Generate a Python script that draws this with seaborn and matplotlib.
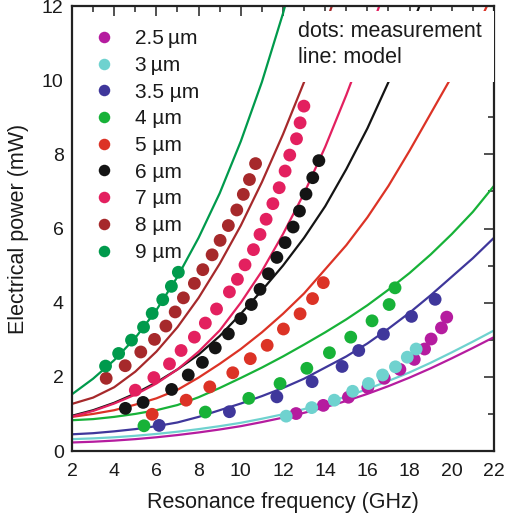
import numpy as np
import pandas as pd
import matplotlib
matplotlib.use("Agg")
import matplotlib.pyplot as plt
from matplotlib.patches import Rectangle
from matplotlib.ticker import MultipleLocator
import seaborn as sns

# ---- series labels and colours -------------------------------------------
labels = ["2.5\u2009µm", "3\u2009µm", "3.5 µm", "4 µm", "5 µm", "6 µm", "7 µm", "8 µm", "9 µm"]
dot_colors = ["#b51c9f", "#6fd2cf", "#3f379b", "#17b238", "#dc3326",
              "#141414", "#e3205f", "#a6292b", "#009a4c"]
line_colors = ["#b51c9f", "#6fd2cf", "#3f379b", "#17b238", "#dc3326",
               "#141414", "#e3205f", "#a6292b", "#009a4c"]

# ---- measured resonance frequency (GHz) and electrical power (mW) ---------
meas_f_25 = [12.62, 13.91, 15.10, 16.02, 16.80, 17.54, 18.22, 18.71, 19.02, 19.51, 19.76]
meas_p_25 = [1.01, 1.23, 1.45, 1.71, 1.96, 2.20, 2.47, 2.75, 3.02, 3.32, 3.61]

meas_f_3 = [12.15, 13.36, 14.43, 15.30, 16.05, 16.72, 17.33, 17.89, 18.31]
meas_p_3 = [0.94, 1.17, 1.37, 1.61, 1.82, 2.05, 2.27, 2.53, 2.75]

meas_f_35 = [6.13, 9.46, 11.71, 13.38, 14.80, 15.59, 16.76, 18.09, 19.21]
meas_p_35 = [0.69, 1.06, 1.46, 1.87, 2.28, 2.71, 3.15, 3.63, 4.09]

meas_f_4 = [5.41, 8.32, 10.38, 11.86, 13.13, 14.20, 15.21, 16.22, 17.03, 17.31]
meas_p_4 = [0.68, 1.05, 1.42, 1.82, 2.23, 2.65, 3.07, 3.51, 3.95, 4.40]

meas_f_5 = [5.80, 7.41, 8.53, 9.62, 10.45, 11.25, 12.02, 12.81, 13.40, 13.91]
meas_p_5 = [0.99, 1.37, 1.73, 2.11, 2.49, 2.85, 3.29, 3.70, 4.11, 4.54]

meas_f_6 = [4.53, 5.37, 6.72, 7.51, 8.18, 8.79, 9.41, 10.00, 10.50, 10.91,
            11.31, 11.71, 12.10, 12.48, 12.78, 13.09, 13.41, 13.70]
meas_p_6 = [1.15, 1.31, 1.66, 2.05, 2.39, 2.78, 3.16, 3.57, 3.95, 4.36,
            4.78, 5.22, 5.62, 6.04, 6.47, 6.93, 7.37, 7.83]

meas_f_7 = [5.00, 5.88, 6.62, 7.17, 7.80, 8.32, 8.85, 9.46, 9.84, 10.20,
            10.60, 10.91, 11.20, 11.52, 11.82, 12.10, 12.32, 12.64, 12.81, 12.99]
meas_p_7 = [1.64, 1.98, 2.35, 2.71, 3.07, 3.45, 3.83, 4.29, 4.63, 5.02,
            5.43, 5.84, 6.25, 6.67, 7.10, 7.55, 7.98, 8.42, 8.85, 9.30]

meas_f_8 = [3.62, 4.52, 5.26, 5.91, 6.45, 6.89, 7.28, 7.80, 8.20, 8.64,
            9.02, 9.41, 9.81, 10.12, 10.41, 10.70]
meas_p_8 = [1.96, 2.30, 2.67, 3.01, 3.37, 3.75, 4.13, 4.52, 4.89, 5.29,
            5.68, 6.08, 6.50, 6.92, 7.32, 7.75]

meas_f_9 = [3.59, 4.21, 4.82, 5.39, 5.80, 6.30, 6.71, 7.04]
meas_p_9 = [2.29, 2.63, 2.99, 3.34, 3.71, 4.08, 4.44, 4.82]

# ---- model curves, sampled every 1 GHz starting at 2 GHz -------------------
model_25 = [0.23, 0.25, 0.28, 0.32, 0.37, 0.43, 0.50, 0.58, 0.67, 0.78, 0.90,
            1.03, 1.18, 1.35, 1.54, 1.75, 1.98, 2.23, 2.50, 2.78, 3.07]
model_3 = [0.32, 0.34, 0.37, 0.41, 0.46, 0.52, 0.59, 0.67, 0.76, 0.87, 0.99,
           1.13, 1.29, 1.47, 1.67, 1.89, 2.12, 2.38, 2.66, 2.95, 3.25]
model_35 = [0.45, 0.48, 0.53, 0.59, 0.67, 0.77, 0.92, 1.10, 1.28, 1.48, 1.70,
            1.95, 2.25, 2.55, 2.90, 3.30, 3.73, 4.20, 4.70, 5.20, 5.75]
model_4 = [0.83, 0.86, 0.92, 1.00, 1.10, 1.24, 1.45, 1.70, 1.97, 2.25, 2.55,
           2.87, 3.20, 3.55, 3.93, 4.35, 4.80, 5.30, 5.85, 6.45, 7.15]
model_5 = [0.92, 1.00, 1.10, 1.25, 1.42, 1.65, 1.98, 2.35, 2.75, 3.20, 3.70,
           4.25, 4.90, 5.55, 6.30, 7.15, 8.10, 9.10, 10.10, 11.20, 12.40]
model_6 = [0.95, 1.10, 1.30, 1.55, 1.85, 2.20, 2.60, 3.10, 3.70, 4.33, 5.00,
           5.75, 6.60, 7.60, 8.70, 9.95, 11.30, 12.80]
model_7 = [0.93, 1.08, 1.28, 1.52, 1.82, 2.20, 2.68, 3.25, 4.00, 4.85, 5.85,
           6.95, 8.20, 9.60, 11.10, 12.70]
model_8 = [1.27, 1.44, 1.72, 2.14, 2.68, 3.34, 4.13, 5.05, 6.08, 7.25, 8.54,
           9.95, 11.49, 13.10]
model_9 = [1.53, 1.95, 2.45, 3.05, 3.80, 4.70, 5.75, 6.95, 8.35, 9.95, 11.80, 13.90]

meas_f = [meas_f_25, meas_f_3, meas_f_35, meas_f_4, meas_f_5, meas_f_6, meas_f_7, meas_f_8, meas_f_9]
meas_p = [meas_p_25, meas_p_3, meas_p_35, meas_p_4, meas_p_5, meas_p_6, meas_p_7, meas_p_8, meas_p_9]
models = [model_25, model_3, model_35, model_4, model_5, model_6, model_7, model_8, model_9]

# ---- tidy tables -----------------------------------------------------------
dots = pd.concat(
    [pd.DataFrame({"f": f, "p": p, "size": lab}) for f, p, lab in zip(meas_f, meas_p, labels)],
    ignore_index=True)
curves = pd.concat(
    [pd.DataFrame({"f": np.arange(2, 2 + len(m)), "p": m, "size": lab}) for m, lab in zip(models, labels)],
    ignore_index=True)

sns.set_style("white")
plt.rcParams["font.family"] = ["Liberation Sans", "DejaVu Sans"]

fig = plt.figure(figsize=(5.10, 5.17), dpi=100)
ax = fig.add_axes([72 / 510, 1 - 451 / 517, 422 / 510, 445 / 517])

sns.lineplot(data=curves, x="f", y="p", hue="size", hue_order=labels,
             palette=dict(zip(labels, line_colors)), estimator=None, sort=False,
             linewidth=1.6, legend=False, ax=ax, zorder=2)
sns.scatterplot(data=dots, x="f", y="p", hue="size", hue_order=labels,
                palette=dict(zip(labels, dot_colors)), s=85, linewidth=0,
                ax=ax, zorder=3)

ax.set_xlim(2, 22)
ax.set_ylim(0, 12)
ax.xaxis.set_major_locator(MultipleLocator(2))
ax.xaxis.set_minor_locator(MultipleLocator(1))
ax.yaxis.set_major_locator(MultipleLocator(2))
ax.yaxis.set_minor_locator(MultipleLocator(1))
ax.tick_params(which="both", direction="in", top=True, right=True,
               colors="#222222", width=1.1)
ax.tick_params(which="major", length=7, labelsize=14, labelcolor="#1a1a1a")
ax.tick_params(axis="x", which="major", pad=8.5)
ax.tick_params(axis="y", which="major", pad=6)
ax.tick_params(which="minor", length=4)
for sp in ax.spines.values():
    sp.set_linewidth(1.6)
    sp.set_color("#222222")

ax.set_xlabel("Resonance frequency (GHz)", fontsize=15.5, labelpad=9, color="#1a1a1a")
ax.set_ylabel("Electrical power (mW)", fontsize=15.5, labelpad=9, color="#1a1a1a")

# annotation panel in the upper right
ax.add_patch(Rectangle((12.45, 9.95), 9.55, 1.92, facecolor="white",
                       edgecolor="none", zorder=4))
ax.text(12.72, 11.16, "dots: measurement", fontsize=15.5, va="baseline",
        ha="left", color="#1a1a1a", zorder=5)
ax.text(12.72, 10.46, "line: model", fontsize=15.5, va="baseline",
        ha="left", color="#1a1a1a", zorder=5)

handles, labs = ax.get_legend_handles_labels()
leg = ax.legend(handles, labs, loc="upper left", bbox_to_anchor=(0.050, 0.948),
                frameon=False, fontsize=15, borderpad=0, borderaxespad=0,
                labelspacing=0.37, handlelength=1.0, handletextpad=1.0,
                markerscale=0.9)
for t in leg.get_texts():
    t.set_color("#1a1a1a")

fig.savefig("out.png", dpi=100)
